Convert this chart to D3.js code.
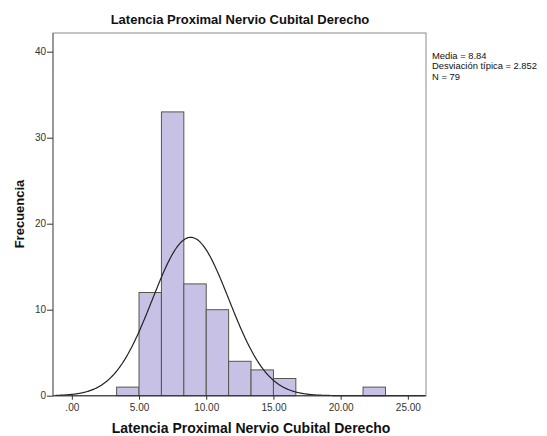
<!DOCTYPE html>
<html>
<head>
<meta charset="utf-8">
<script src="https://cdn.jsdelivr.net/npm/d3@7"></script>
<style>
  body { margin: 0; background: #fff; }
  svg { display: block; font-family: "Liberation Sans", Arial, sans-serif; }
</style>
</head>
<body>
<svg id="chart" width="547" height="436"></svg>
<script>
// Histogram bins (lower edge, upper edge) and frequencies
const binStarts = [3.3333, 5.0, 6.6667, 8.3333, 10.0, 11.6667, 13.3333, 15.0, 21.6667];
const binEnds   = [5.0, 6.6667, 8.3333, 10.0, 11.6667, 13.3333, 15.0, 16.6667, 23.3333];
const counts    = [1, 12, 33, 13, 10, 4, 3, 2, 1];

// Summary statistics shown beside the plot
const mean = 8.84;
const sd = 2.852;
const n = 79;
const binWidth = 5 / 3;

const xTicks = [0, 5, 10, 15, 20, 25];
const xTickLabels = [".00", "5.00", "10.00", "15.00", "20.00", "25.00"];
const yTicks = [0, 10, 20, 30, 40];
const statLines = ["Media = 8.84", "Desviación típica = 2.852", "N = 79"];

const titleText = "Latencia Proximal Nervio Cubital Derecho";
const xTitle = "Latencia Proximal Nervio Cubital Derecho";
const yTitle = "Frecuencia";

const svg = d3.select("#chart");
const plot = { left: 53, top: 33, right: 426, bottom: 396 };

const x = d3.scaleLinear().domain([-1.4, 26.35]).range([plot.left, plot.right]);
const y = d3.scaleLinear().domain([0, 40]).range([395.7, 51.7]);

// Plot frame
svg.append("rect")
  .attr("x", plot.left).attr("y", plot.top)
  .attr("width", plot.right - plot.left).attr("height", plot.bottom - plot.top)
  .attr("fill", "none").attr("stroke", "#8c8c8c").attr("stroke-width", 1);

// Bars
const bars = binStarts.map((s, i) => ({ x0: s, x1: binEnds[i], c: counts[i] }));
svg.append("g").selectAll("rect").data(bars).join("rect")
  .attr("x", d => x(d.x0))
  .attr("y", d => y(d.c))
  .attr("width", d => x(d.x1) - x(d.x0))
  .attr("height", d => y(0) - y(d.c))
  .attr("fill", "#c7c1e5")
  .attr("stroke", "#56564a")
  .attr("stroke-width", 1);

// Normal density curve scaled to the histogram
const pdf = v => n * binWidth * Math.exp(-0.5 * ((v - mean) / sd) ** 2) / (sd * Math.sqrt(2 * Math.PI));
const curveX = d3.range(-1.2, 26.3, 0.05);
svg.append("path")
  .datum(curveX)
  .attr("fill", "none")
  .attr("stroke", "#222")
  .attr("stroke-width", 1.2)
  .attr("d", d3.line().x(v => x(v)).y(v => y(pdf(v))).curve(d3.curveBasis));

// Y axis
const yAxis = d3.axisLeft(y).tickValues(yTicks).tickSize(6).tickSizeOuter(0).tickFormat(d3.format("d"));
const gy = svg.append("g").attr("transform", `translate(${plot.left},0)`).call(yAxis);
gy.select(".domain").attr("d", `M0,${plot.top}V${plot.bottom}`).attr("stroke", "#6e6e6e");
gy.selectAll(".tick line").attr("stroke", "#333");
gy.selectAll(".tick text").attr("font-size", 10).attr("fill", "#333").attr("x", -7).attr("font-family", "Liberation Sans, Arial, sans-serif");

// X axis
const xAxis = d3.axisBottom(x).tickValues(xTicks).tickSize(4).tickSizeOuter(0)
  .tickFormat((d, i) => xTickLabels[i]);
const gx = svg.append("g").attr("transform", `translate(0,${y(0)})`).call(xAxis);
gx.select(".domain").attr("d", `M${plot.left},0H${plot.right}`).attr("stroke", "#333");
gx.selectAll(".tick line").attr("stroke", "#333");
gx.selectAll(".tick text").attr("font-size", 10).attr("fill", "#333").attr("y", 8).attr("font-family", "Liberation Sans, Arial, sans-serif");

// Titles
svg.append("text").attr("x", 240).attr("y", 24).attr("text-anchor", "middle")
  .attr("font-size", 13).attr("font-weight", "bold").attr("fill", "#111").text(titleText);
svg.append("text").attr("x", 251).attr("y", 433).attr("text-anchor", "middle")
  .attr("font-size", 14).attr("font-weight", "bold").attr("fill", "#111").text(xTitle);
svg.append("text").attr("transform", "translate(24,214) rotate(-90)").attr("text-anchor", "middle")
  .attr("font-size", 13).attr("font-weight", "bold").attr("fill", "#111").text(yTitle);

// Statistics legend
svg.append("g").selectAll("text").data(statLines).join("text")
  .attr("x", 432).attr("y", (d, i) => 59 + i * 10.3)
  .attr("font-size", 9.4).attr("fill", "#111").text(d => d);
</script>
</body>
</html>
